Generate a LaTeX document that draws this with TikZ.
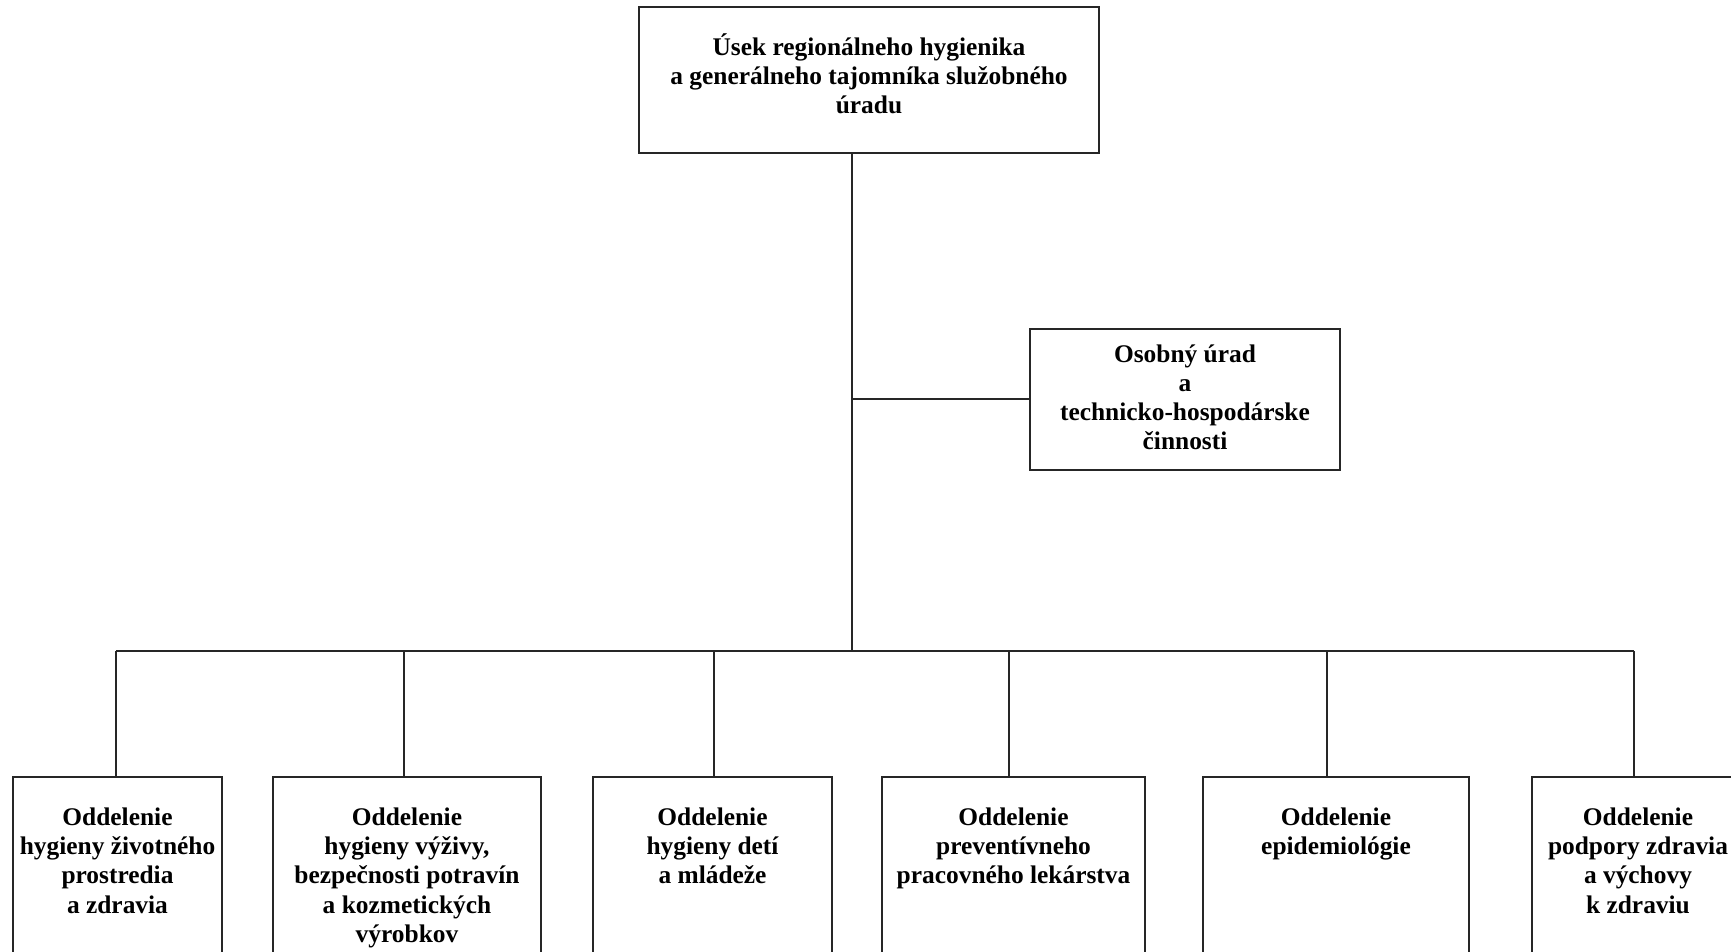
\documentclass[tikz,border=0pt]{standalone}
\usepackage{fontspec}
\setmainfont{Liberation Serif}
\usetikzlibrary{fit}
\newcommand{\fst}{\rule{0pt}{10pt}}
\begin{document}
\begin{tikzpicture}[x=0.5pt,y=-0.5pt,
  box/.style={draw=black!85,line width=1pt,inner sep=0pt,fill=none},
  txt/.style={anchor=north,inner sep=0pt,align=center,font=\bfseries\fontsize{12.7}{14.6}\selectfont},
  con/.style={draw=black!85,line width=1pt}]
\useasboundingbox (0,0) rectangle (1731,952);
\clip (0,0) rectangle (1731,952);
\fill[white] (0,0) rectangle (1731,952);
% boxes
\node[box,fit={(639,7)(1099,153)}] (top) {};
\node[box,fit={(1030,329)(1340,470)}] (os) {};
\node[box,fit={(13,777)(222,1010)}] (b1) {};
\node[box,fit={(273,777)(541,1010)}] (b2) {};
\node[box,fit={(593,777)(832,1010)}] (b3) {};
\node[box,fit={(882,777)(1145,1010)}] (b4) {};
\node[box,fit={(1203,777)(1469,1010)}] (b5) {};
\node[box,fit={(1532,777)(1744,1010)}] (b6) {};
% texts
\node[txt] (ttop) at (869,33) {\fst Úsek regionálneho hygienika\\ a generálneho tajomníka služobného\\úradu};
\node[txt] (tos) at (1185,342) {\fst Osobný úrad\\a\\technicko-hospodárske\\činnosti};
\node[txt] (t1) at (117.5,805) {\fst Oddelenie\\hygieny životného\\prostredia\\a zdravia};
\node[txt] (t2) at (407,805) {\fst Oddelenie\\ hygieny výživy,\\bezpečnosti potravín\\a kozmetických\\výrobkov};
\node[txt] (t3) at (712.5,805) {\fst Oddelenie\\hygieny detí\\a mládeže};
\node[txt] (t4) at (1013.5,805) {\fst Oddelenie\\preventívneho\\pracovného lekárstva};
\node[txt] (t5) at (1336,805) {\fst Oddelenie\\epidemiológie};
\node[txt] (t6) at (1638,805) {\fst Oddelenie\\podpory zdravia\\a výchovy\\k zdraviu};
% connectors
\coordinate (j) at (852,651);
\coordinate (d1) at (116,651);
\coordinate (d2) at (404,651);
\coordinate (d3) at (714,651);
\coordinate (d4) at (1009,651);
\coordinate (d5) at (1327,651);
\coordinate (d6) at (1634,651);
\path[con] (top.south -| j) -- (j);
\path[con] (os.west) -- (os.west -| j);
\path[con] (d1) -- (d6);
\foreach \i in {1,...,6} {
  \path[con] (d\i) -- (d\i |- b\i.north);
}
\end{tikzpicture}
\end{document}
